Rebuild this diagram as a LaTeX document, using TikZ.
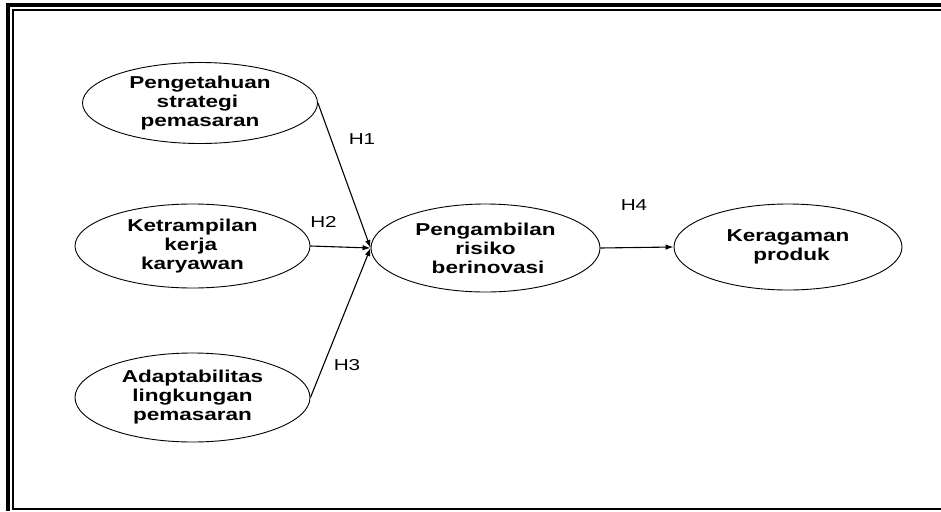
\documentclass[tikz,border=0pt]{standalone}
\usepackage{fontspec}
\setmainfont{Liberation Sans}[FakeStretch=1.31]
\usetikzlibrary{shapes.geometric,arrows.meta}
\tikzset{
  varnode/.style={draw=black, line width=0.9pt, shape=ellipse, inner sep=-8pt, align=center,
    font=\fontsize{17.2}{19}\selectfont\bfseries},
  hlabel/.style={anchor=base, inner sep=0pt, font=\fontsize{15.8}{18}\selectfont},
  pathline/.style={line width=1.1pt, -{Latex[length=8pt,width=5.5pt]}},
}
\begin{document}
\begin{tikzpicture}[x=1pt,y=-1pt]
\useasboundingbox (0,0) rectangle (941,511);
% frame
\draw[line width=4pt] (8,5) -- (941,5);
\draw[line width=4pt] (8,3) -- (8,511);
\draw[line width=1.8pt] (12.8,10) -- (941,10);
\draw[line width=1.8pt] (12.8,9.1) -- (12.8,509);
\draw[line width=2pt] (11.9,509) -- (941,509);
% variables
\node[varnode, minimum width=235pt, minimum height=81pt] (e1) at (200,103) {Pengetahuan\\\mbox{strategi\hspace{0.3em}}\\pemasaran};
\node[varnode, minimum width=235pt, minimum height=84pt] (e2) at (192.5,246) {Ketrampilan\\\mbox{kerja\hspace{0.2em}}\\karyawan};
\node[varnode, minimum width=235pt, minimum height=89pt] (e3) at (192.5,397.5) {Adaptabilitas\\lingkungan\\pemasaran};
\node[varnode, minimum width=229pt, minimum height=88pt] (e4) at (485.5,248) {Pengambilan\\risiko\\\mbox{\hspace{0.3em}berinovasi}};
\node[varnode, minimum width=228pt, minimum height=86pt] (e5) at (788,247) {Keragaman\\\mbox{\hspace{0.4em}produk}};
% paths
\draw[pathline] (e1.east) -- (e4.west);
\draw[pathline] (e2.east) -- (e4.west);
\draw[pathline] (e3.east) -- (e4.west);
\draw[pathline] (e4.east) -- (e5.west);
% labels
\node[hlabel] (h1) at (362,144) {H1};
\node[hlabel] (h2) at (323.5,227) {H2};
\node[hlabel] (h3) at (347,370) {H3};
\node[hlabel] (h4) at (634,210) {H4};
\end{tikzpicture}
\end{document}
